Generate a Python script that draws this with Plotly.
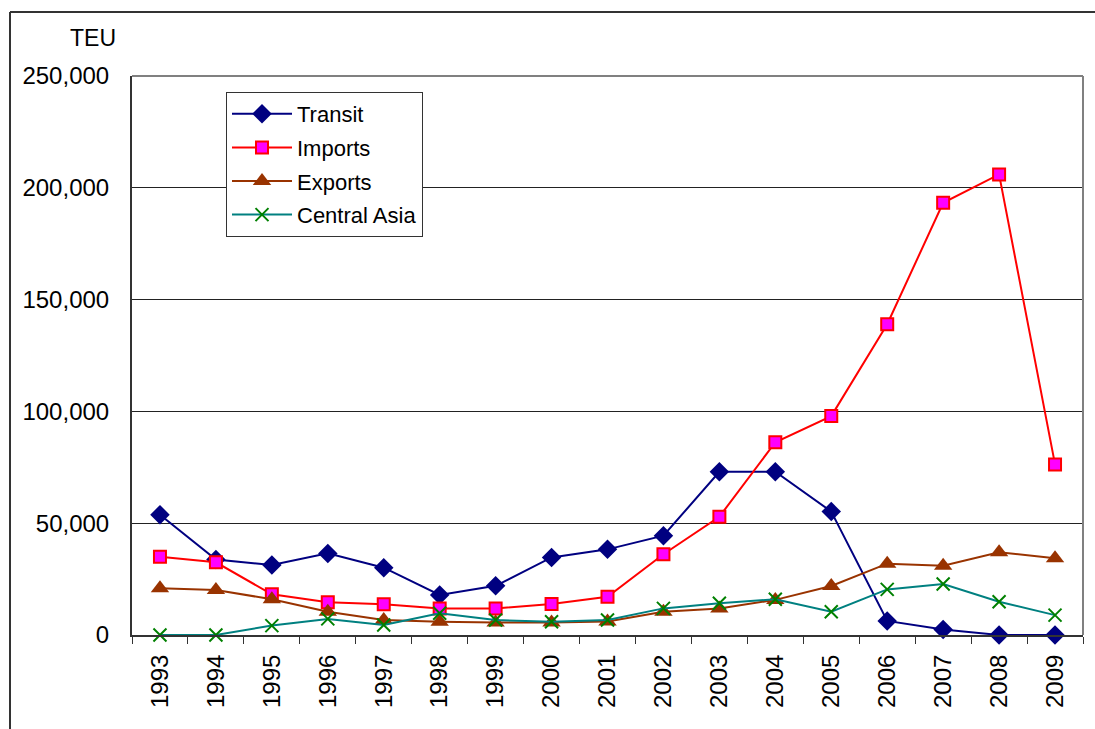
import plotly.graph_objects as go

years = [str(y) for y in range(1993, 2010)]
transit = [53800, 33800, 31300, 36500, 30100, 17900, 22000, 34700, 38300, 44400,
           73000, 73000, 55200, 6300, 2500, 0, 0]
imports = [35000, 32500, 18200, 14600, 13700, 11900, 11900, 13900, 17100, 36100,
           52900, 86200, 97900, 139000, 193300, 206000, 76300]
exports = [20900, 20100, 16000, 10400, 6700, 5900, 5600, 5600, 6000, 10400,
           11900, 15700, 21900, 31900, 31000, 37000, 34300]
central_asia = [0, 0, 4200, 7200, 4500, 9700, 6700, 5900, 6700, 11900,
                14200, 16000, 10400, 20400, 22800, 14900, 8900]
y_ticks = [0, 50000, 100000, 150000, 200000, 250000]

FONT = "Liberation Sans, Arial, sans-serif"

fig = go.Figure()
fig.add_trace(go.Scatter(x=years, y=transit, name="Transit", mode="lines+markers",
                         legendgroup="a",
                         line=dict(color="#000080", width=2),
                         marker=dict(symbol="diamond", size=15, color="#000080"),
                         cliponaxis=False))
fig.add_trace(go.Scatter(x=years, y=imports, name="Imports", mode="lines+markers",
                         legendgroup="b",
                         line=dict(color="#FF0000", width=2),
                         marker=dict(symbol="square", size=12, color="#FF00FF",
                                     line=dict(color="#FF0000", width=2)),
                         cliponaxis=False))
fig.add_trace(go.Scatter(x=years, y=exports, name="Exports", mode="lines+markers",
                         legendgroup="c",
                         line=dict(color="#993300", width=2),
                         marker=dict(symbol="triangle-up", size=16, color="#993300"),
                         cliponaxis=False))
fig.add_trace(go.Scatter(x=years, y=central_asia, name="Central Asia", mode="lines+markers",
                         legendgroup="d",
                         line=dict(color="#008080", width=2),
                         marker=dict(symbol="x-thin", size=13, color="#008000",
                                     line=dict(color="#008000", width=2)),
                         cliponaxis=False))

L, R, T, B = 132, 12, 76, 94
W, H = 1095, 729
pw, ph = W - L - R, H - T - B

def px(xp):
    return (xp - L) / pw

def py(yp):
    return (H - B - yp) / ph

fig.update_layout(
    width=W, height=H,
    margin=dict(l=L, r=R, t=T, b=B),
    paper_bgcolor="white", plot_bgcolor="white",
    font=dict(family=FONT, size=24, color="black"),
    showlegend=True,
    legend=dict(x=px(226), y=py(92), xanchor="left", yanchor="top",
                bgcolor="white", bordercolor="#333333", borderwidth=1,
                font=dict(family=FONT, size=22, color="black"),
                itemwidth=60, tracegroupgap=2),
    xaxis=dict(type="category", range=[-0.5, 16.5], showgrid=False,
               showline=True, linecolor="#333333", linewidth=2,
               ticks="outside", tickson="boundaries", ticklen=7,
               tickcolor="#333333", tickwidth=1, tickangle=-90,
               ticklabelstandoff=8,
               tickfont=dict(family=FONT, size=24)),
    yaxis=dict(range=[0, 250000], tickvals=y_ticks, tickformat=",",
               showgrid=True, gridcolor="#222222", gridwidth=1,
               showline=True, linecolor="#333333", linewidth=2,
               ticks="", ticklabelstandoff=16, zeroline=False,
               tickfont=dict(family=FONT, size=24)),
    annotations=[dict(text="TEU", x=px(93), y=py(38), xref="paper", yref="paper",
                      xanchor="center", yanchor="middle",
                      showarrow=False, font=dict(family=FONT, size=23))],
    shapes=[
        dict(type="line", xref="paper", yref="paper", x0=0, x1=1, y0=1, y1=1,
             line=dict(color="#808080", width=2)),
        dict(type="line", xref="paper", yref="paper", x0=1, x1=1, y0=0, y1=1,
             line=dict(color="#808080", width=2)),
        dict(type="line", xref="paper", yref="paper", x0=px(10), x1=px(10),
             y0=py(12), y1=py(740), line=dict(color="#333333", width=2)),
        dict(type="line", xref="paper", yref="paper", x0=px(10), x1=px(1100),
             y0=py(12), y1=py(12), line=dict(color="#333333", width=2)),
    ],
)

fig.write_html("out.html", config={"displayModeBar": False},
               post_script="document.body.style.margin='0px';document.body.style.overflow='hidden';")
